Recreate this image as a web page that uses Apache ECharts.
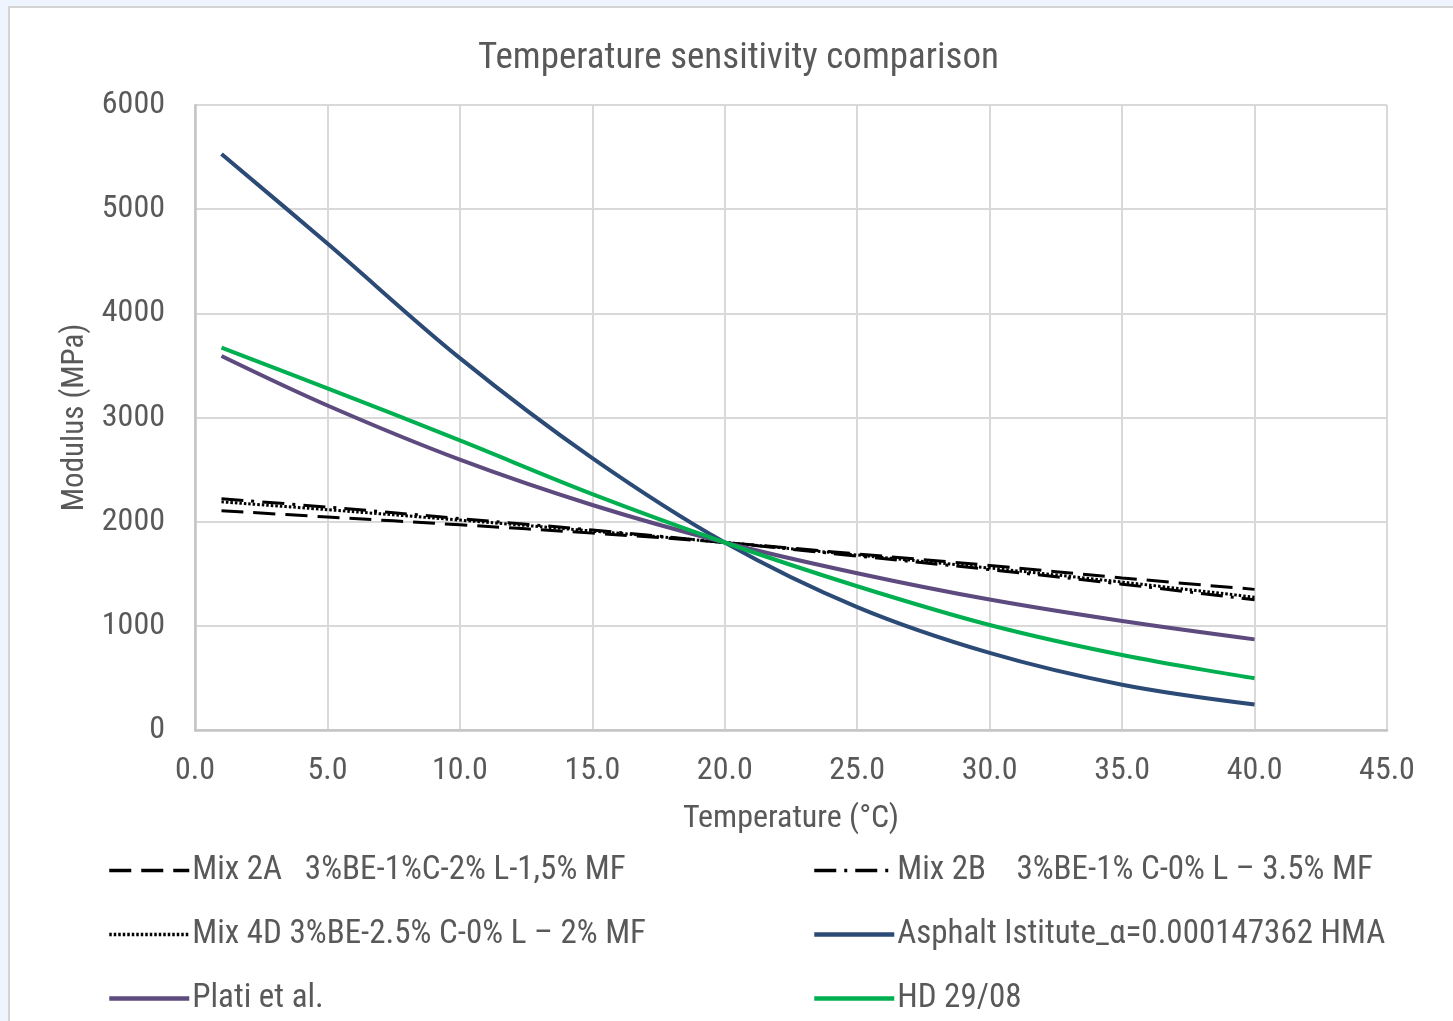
<!DOCTYPE html>
<html>
<head>
<meta charset="utf-8">
<script src="https://cdn.jsdelivr.net/npm/echarts@6/dist/echarts.min.js"></script>
<style>
  html, body { margin: 0; padding: 0; background: #EEF5FF; width: 1453px; height: 1021px; overflow: hidden; }
  #frame { position: absolute; left: 8px; top: 6px; width: 1460px; height: 1030px; background: #fff; border-left: 2px solid #D4D4D4; border-top: 2px solid #D4D4D4; }
  #chart { position: absolute; left: 0; top: 0; width: 1453px; height: 1021px; }
</style>
</head>
<body>
<div id="frame"></div>
<div id="chart"></div>
<script>
const temps = [1, 5, 10, 15, 20, 25, 30, 35, 40];
const mix2A = [2105, 2045, 1970, 1890, 1800, 1690, 1580, 1460, 1350];
const mix2B = [2220, 2140, 2030, 1920, 1800, 1670, 1540, 1400, 1250];
const mix4D = [2190, 2115, 2015, 1910, 1800, 1680, 1555, 1420, 1275];
const asphalt = [5530, 4670, 3570, 2610, 1800, 1180, 740, 435, 245];
const plati = [3590, 3115, 2595, 2160, 1800, 1505, 1252, 1046, 870];
const hd = [3670, 3280, 2780, 2265, 1800, 1380, 1008, 720, 496];

const names = [
  'Mix 2A   3%BE-1%C-2% L-1,5% MF',
  'Mix 2B    3%BE-1% C-0% L \u2013 3.5% MF',
  'Mix 4D 3%BE-2.5% C-0% L \u2013 2% MF',
  'Asphalt Istitute_\u03b1=0.000147362 HMA',
  'Plati et al.',
  'HD 29/08'
];

const FONT = "'Liberation Sans Narrow', 'Arial Narrow', 'Roboto Condensed', 'Liberation Sans', sans-serif";
const TXT = '#595959';

const styles = [
  { color: '#000000', width: 3, type: [22, 10] },
  { color: '#000000', width: 3, type: [22, 8, 3, 8] },
  { color: '#000000', width: 3, type: [2.5, 2] },
  { color: '#2B4A76', width: 4, type: 'solid' },
  { color: '#5D4A7E', width: 4, type: 'solid' },
  { color: '#00B050', width: 4, type: 'solid' }
];

function pairs(vals) { return temps.map((t, i) => [t, vals[i]]); }

function mk(idx, vals) {
  const s = styles[idx];
  return {
    name: names[idx], type: 'line', data: pairs(vals), smooth: 0.35,
    symbol: 'none', showSymbol: false,
    lineStyle: { color: s.color, width: s.width, type: s.type },
    itemStyle: { color: s.color },
    emphasis: { disabled: true }
  };
}

function legendCfg(idxs, left) {
  return {
    data: idxs.map(i => ({ name: names[i], lineStyle: { color: styles[i].color, width: styles[i].width + 0.5, type: styles[i].type } })),
    orient: 'vertical',
    left: left, top: 849, itemWidth: 80, itemHeight: 14, itemGap: 31,
    itemStyle: { opacity: 0, borderWidth: 0 },
    textStyle: { fontFamily: FONT, fontSize: 33, color: TXT, lineHeight: 33, padding: [0, 0, 0, -2] },
    selectedMode: false
  };
}

const chart = echarts.init(document.getElementById('chart'), null, { renderer: 'canvas' });
chart.setOption({
  backgroundColor: 'transparent',
  animation: false,
  title: {
    text: 'Temperature sensitivity comparison',
    left: 473, top: 35,
    textStyle: { fontFamily: FONT, fontSize: 37, fontWeight: 'normal', color: TXT }
  },
  grid: { left: 195, top: 105, width: 1192, height: 625, containLabel: false },
  xAxis: {
    type: 'value', min: 0, max: 45, interval: 5,
    name: 'Temperature (\u00b0C)', nameLocation: 'middle', nameGap: 73,
    nameTextStyle: { fontFamily: FONT, fontSize: 32, color: TXT },
    axisLine: { show: true, lineStyle: { color: '#C4C4C4', width: 2.5 } },
    axisTick: { show: false },
    axisLabel: { fontFamily: FONT, fontSize: 32, color: TXT, margin: 25, formatter: v => v.toFixed(1) },
    splitLine: { show: true, lineStyle: { color: '#D9D9D9', width: 2 } }
  },
  yAxis: {
    type: 'value', min: 0, max: 6000, interval: 1000,
    name: 'Modulus (MPa)', nameLocation: 'middle', nameGap: 104,
    nameTextStyle: { fontFamily: FONT, fontSize: 31, color: TXT },
    axisLine: { show: true, lineStyle: { color: '#C4C4C4', width: 2.5 } },
    axisTick: { show: false },
    axisLabel: { fontFamily: FONT, fontSize: 32, color: TXT, margin: 30, formatter: v => String(v) },
    splitLine: { show: true, lineStyle: { color: '#D9D9D9', width: 2 } }
  },
  legend: [
    legendCfg([0, 2, 4], 102),
    legendCfg([1, 3, 5], 807)
  ],
  series: [
    mk(0, mix2A),
    mk(1, mix2B),
    mk(2, mix4D),
    mk(3, asphalt),
    mk(4, plati),
    mk(5, hd)
  ]
});
</script>
</body>
</html>
